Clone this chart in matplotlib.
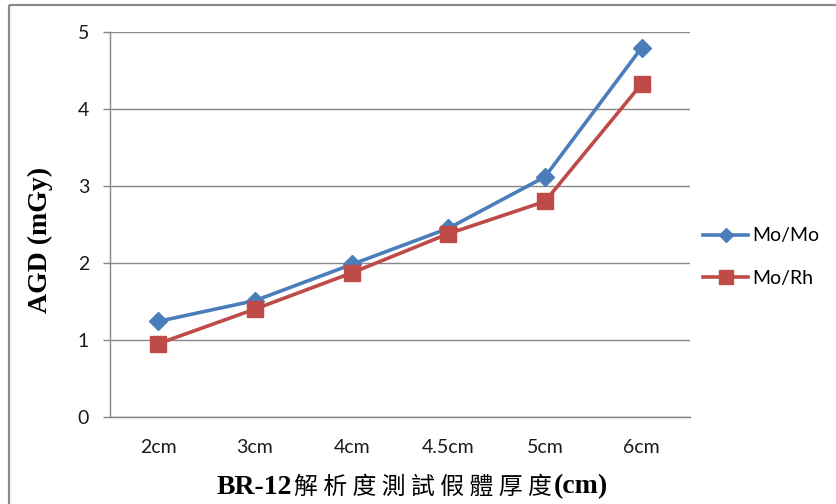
import matplotlib
matplotlib.use("Agg")
import matplotlib.pyplot as plt
from matplotlib.lines import Line2D
from matplotlib.patches import Rectangle

# Phantom thickness categories and average glandular dose values
categories = ["2cm", "3cm", "4cm", "4.5cm", "5cm", "6cm"]
mo_mo = [1.24, 1.51, 1.98, 2.45, 3.12, 4.80]
mo_rh = [0.95, 1.40, 1.87, 2.38, 2.80, 4.33]
y_ticks = [0, 1, 2, 3, 4, 5]

BLUE = "#4A7EBB"
RED = "#BE4B48"
GRID = "#878787"

W, H = 837, 504
fig = plt.figure(figsize=(W / 100, H / 100), dpi=100)
fig.patch.set_facecolor("white")

# Chart-area frame
fig.patches.append(Rectangle((9 / W, 1 - 5 / H), 2, -2, transform=fig.transFigure,
                             fill=False, edgecolor="#8A8A8A", linewidth=1.6))

ax = fig.add_axes([110 / W, 87.3 / H, 580 / W, 384.4 / H])
x = list(range(len(categories)))

ax.plot(x, mo_mo, color=BLUE, linewidth=2.6, marker="D", markersize=9.5,
        markerfacecolor=BLUE, markeredgecolor=BLUE, zorder=3)
ax.plot(x, mo_rh, color=RED, linewidth=2.6, marker="s", markersize=12,
        markerfacecolor=RED, markeredgecolor=RED, zorder=4)

ax.set_xlim(-0.5, len(categories) - 0.5)
ax.set_ylim(0, 5)
ax.set_yticks(y_ticks)
ax.set_yticklabels([str(v) for v in y_ticks])
ax.set_xticks(x)
ax.set_xticklabels(categories)

ax.yaxis.grid(True, color=GRID, linewidth=1.0)
ax.set_axisbelow(True)
for side in ("top", "right"):
    ax.spines[side].set_visible(False)
ax.spines["left"].set_color(GRID)
ax.spines["bottom"].set_color(GRID)
ax.spines["left"].set_linewidth(1.0)
ax.spines["bottom"].set_linewidth(1.0)

ax.tick_params(axis="y", length=5, width=1.0, color=GRID, pad=10,
               labelsize=14, labelcolor="#1a1a1a")
ax.tick_params(axis="x", length=0, pad=16, labelsize=14, labelcolor="#1a1a1a")
for lab in ax.get_xticklabels() + ax.get_yticklabels():
    lab.set_fontfamily("Lato")

# Y-axis title
fig.text(40 / W, 1 - 240 / H, "AGD (mGy)", rotation=90, ha="center", va="center",
         fontsize=20, fontweight="bold", family="Liberation Serif")

# X-axis title: bold Latin parts around a regular-weight CJK run
renderer = fig.canvas.get_renderer()
title_y = 1 - 487 / H
parts = [
    ("BR-12", dict(family="Liberation Serif", fontweight="bold"), 0, 20),
    ("解 析 度 測 試 假 體 厚 度", dict(family="Noto Sans CJK TC", fontweight="normal"), 2, 17.2),
    ("(cm)", dict(family="Liberation Serif", fontweight="bold"), 2, 20),
]
texts = []
for s, kw, gap, size in parts:
    t = fig.text(0, title_y, s, ha="left", va="center", fontsize=size, **kw)
    texts.append((t, gap))
widths = [t.get_window_extent(renderer).width + gap for t, gap in texts]
total = sum(widths)
cur = 412 - total / 2
for (t, gap), w in zip(texts, widths):
    t.set_x((cur + gap) / W)
    cur += w

# Legend
handles = [
    Line2D([], [], color=BLUE, linewidth=2.6, marker="D", markersize=7,
           markerfacecolor=BLUE, markeredgecolor=BLUE),
    Line2D([], [], color=RED, linewidth=2.6, marker="s", markersize=10,
           markerfacecolor=RED, markeredgecolor=RED),
]
leg = fig.legend(handles, ["Mo/Mo", "Mo/Rh"], loc="center left",
                 bbox_to_anchor=(686 / W, 1 - 257 / H), frameon=False,
                 handlelength=2.3, handletextpad=0.2, labelspacing=1.3,
                 prop={"family": "Lato", "size": 14})

fig.savefig("out.png", dpi=100, facecolor="white")
